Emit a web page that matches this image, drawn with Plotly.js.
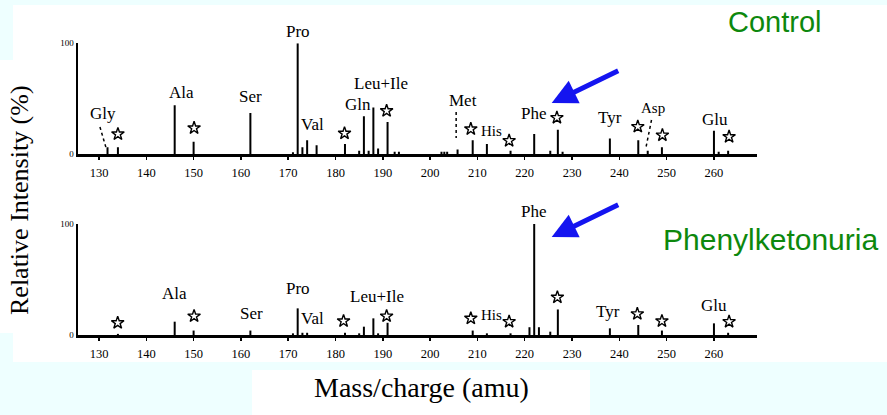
<!DOCTYPE html>
<html>
<head>
<meta charset="utf-8">
<script src="https://cdn.plot.ly/plotly-3.0.1.min.js"></script>
<style>html,body{margin:0;padding:0;background:#EEFFFF;}#chart{width:887px;height:415px;}</style>
</head>
<body>
<div id="chart"></div>
<script>
// ---- data ----
const controlMass = [131.8, 134, 146, 150, 162, 171, 172, 173, 174, 176, 182, 185, 186, 187, 188, 189, 191, 192.5, 193.4, 202.4, 203, 203.6, 205.8, 209, 212, 217, 222, 225.4, 227, 228, 238, 244, 246, 249, 260, 261, 263];
const controlInt  = [6, 6, 44, 11, 37, 1.5, 100, 6, 12.5, 8, 9, 3, 34, 3, 42, 5, 29, 2, 2, 2, 2, 2, 4, 12.5, 9, 3, 18, 3, 22, 2, 14, 12.5, 3, 6, 21, 2, 3];

const pkuMass = [134, 146, 150, 162, 171, 172, 173, 174, 182, 185, 186, 188, 189, 191, 209, 212, 217, 221, 222, 223, 225.4, 227, 238, 244, 249, 260, 263];
const pkuInt  = [1, 12, 4, 4, 1.5, 24, 2, 2, 2, 1.5, 7.5, 15, 1.5, 11, 4, 1.5, 1.5, 7, 100, 7, 3, 23, 6, 9, 4, 10.5, 2];

const xTicks = [130, 140, 150, 160, 170, 180, 190, 200, 210, 220, 230, 240, 250, 260];

// peak labels: [text, mass, intensity-position]
const controlLabels = [
  ['Gly', 130.85, 37], ['Ala', 147.5, 56], ['Ser', 162.1, 51.5],
  ['Val', 175.2, 27], ['Gln', 184.8, 45], ['Leu+Ile', 189.6, 64], ['Met', 207.0, 48],
  ['His', 212.9, 21], ['Phe', 222, 37], ['Tyr', 238.0, 33.4], ['Asp', 247.2, 42], ['Glu', 260.2, 31.3]
];
const controlTopLabel = ['Pro', 172.1];
const controlStarMass = [134.0, 150.1, 181.9, 190.8, 208.6, 216.7, 226.8, 243.9, 249.1, 263.2];
const controlStarPos  = [18, 23.5, 18.7, 39, 22.6, 12, 32.8, 24.7, 17, 15.6];

const pkuLabels = [
  ['Ala', 145.9, 37.5], ['Ser', 162.3, 19.5], ['Pro', 172, 42],
  ['Val', 175.2, 15], ['Leu+Ile', 188.7, 35], ['His', 212.9, 18], ['Tyr', 237.7, 21], ['Glu', 260.1, 27]
];
const pkuTopLabel = ['Phe', 222];
const pkuStarMass = [133.95, 150.1, 181.7, 190.8, 208.6, 216.7, 226.9, 243.8, 249.0, 263.2];
const pkuStarPos  = [11, 17, 12.6, 17, 15, 12, 34, 19, 12.6, 12];

// ---- build stick spectra ----
function sticks(mass, inten) {
  const x = [], y = [];
  mass.forEach((m, i) => { x.push(m, m, null); y.push(0, inten[i], null); });
  return {x, y};
}
const s1 = sticks(controlMass, controlInt);
const s2 = sticks(pkuMass, pkuInt);

const starMarker = {symbol: 'star-open', size: 9.5, color: '#000', line: {color: '#000', width: 1.4}};
const traces = [
  {x: s1.x, y: s1.y, xaxis: 'x', yaxis: 'y', mode: 'lines', line: {color: '#000', width: 2}, hoverinfo: 'skip', showlegend: false},
  {x: s2.x, y: s2.y, xaxis: 'x2', yaxis: 'y2', mode: 'lines', line: {color: '#000', width: 2}, hoverinfo: 'skip', showlegend: false},
  {x: controlStarMass, y: controlStarPos, xaxis: 'x', yaxis: 'y', mode: 'markers', marker: starMarker, cliponaxis: false, hoverinfo: 'skip', showlegend: false},
  {x: pkuStarMass, y: pkuStarPos, xaxis: 'x2', yaxis: 'y2', mode: 'markers', marker: starMarker, cliponaxis: false, hoverinfo: 'skip', showlegend: false}
];

const W = 887, H = 415;
const px = v => v / W, py = v => 1 - v / H;
const serif = 'Liberation Serif, Times New Roman, serif';

const xr = [125.56, 269.1];
function xAxis(anchor) {
  return {
    domain: [px(78), px(757)], range: xr, anchor: anchor,
    showline: true, linecolor: '#000', linewidth: 2.5,
    ticks: 'outside', ticklen: 3, tickwidth: 1.5, tickcolor: '#000',
    tickvals: xTicks, tickfont: {family: serif, size: 12.5, color: '#000'},
    ticklabelstandoff: 2,
    showgrid: false, zeroline: false, fixedrange: true
  };
}
function yAxis(anchor, top, bottom) {
  return {
    domain: [py(bottom), py(top)], range: [0, 100], anchor: anchor,
    showline: true, linecolor: '#000', linewidth: 2.5,
    ticks: '', tickvals: [0, 100], ticktext: ['0', '100'],
    tickfont: {family: serif, size: 9, color: '#000'},
    showgrid: false, zeroline: false, fixedrange: true
  };
}

const annotations = [];
function addLabels(list, xref, yref) {
  list.forEach(l => annotations.push({
    text: l[0], x: l[1], y: l[2], xref: xref, yref: yref, showarrow: false,
    xanchor: 'center', yanchor: 'middle',
    font: {family: serif, size: (l[0] === 'His' || l[0] === 'Asp') ? 15 : 17, color: '#000'}
  }));
}
addLabels(controlLabels, 'x', 'y');
addLabels(pkuLabels, 'x2', 'y2');
annotations.push({text: controlTopLabel[0], x: controlTopLabel[1], y: 100, xref: 'x', yref: 'y', showarrow: false,
  xanchor: 'center', yanchor: 'bottom', yshift: 0, font: {family: serif, size: 17, color: '#000'}});
annotations.push({text: pkuTopLabel[0], x: pkuTopLabel[1], y: 100, xref: 'x2', yref: 'y2', showarrow: false,
  xanchor: 'center', yanchor: 'bottom', yshift: 1, font: {family: serif, size: 17, color: '#000'}});

// panel names
annotations.push({text: 'Control', xref: 'paper', yref: 'paper', x: px(775), y: py(22), showarrow: false,
  xanchor: 'center', yanchor: 'middle',
  font: {family: 'Liberation Sans, Arial, sans-serif', size: 29, color: '#0d880d'}});
annotations.push({text: 'Phenylketonuria', xref: 'paper', yref: 'paper', x: px(770), y: py(239), showarrow: false,
  xanchor: 'center', yanchor: 'middle',
  font: {family: 'Liberation Sans, Arial, sans-serif', size: 30, color: '#0d880d'}});

// blue arrows
[[551.7, 103], [551.7, 237]].forEach(p => annotations.push({
  text: '', xref: 'paper', yref: 'paper', x: px(p[0]), y: py(p[1]),
  ax: 68, ay: -33, showarrow: true, arrowhead: 2, arrowsize: 1, arrowwidth: 5,
  arrowcolor: '#1414f0', standoff: 0
}));

// axis titles
annotations.push({text: 'Mass/charge (amu)', xref: 'paper', yref: 'paper', x: px(421), y: py(387), showarrow: false,
  xanchor: 'center', yanchor: 'middle', font: {family: serif, size: 28, color: '#000'}});
annotations.push({text: 'Relative Intensity (%)', xref: 'paper', yref: 'paper', x: px(19), y: py(200), showarrow: false,
  xanchor: 'center', yanchor: 'middle', textangle: -90, font: {family: serif, size: 26, color: '#000'}});

const shapes = [
  // white scanned figure area
  {type: 'rect', xref: 'paper', yref: 'paper', x0: px(13), x1: 1, y0: py(362), y1: py(5), fillcolor: '#fff', line: {width: 0}, layer: 'below'},
  {type: 'rect', xref: 'paper', yref: 'paper', x0: 0, x1: px(14), y0: py(333), y1: py(60), fillcolor: '#fff', line: {width: 0}, layer: 'below'},
  {type: 'rect', xref: 'paper', yref: 'paper', x0: px(252), x1: px(590), y0: 0, y1: py(370), fillcolor: '#fff', line: {width: 0}, layer: 'below'},
  // dotted leader lines (control panel)
  {type: 'line', xref: 'x', yref: 'y', x0: 130.2, y0: 24.4, x1: 131.5, y1: 5.4, line: {color: '#000', width: 1.5, dash: 'dot'}},
  {type: 'line', xref: 'x', yref: 'y', x0: 205.5, y0: 38, x1: 205.5, y1: 14.5, line: {color: '#000', width: 1.5, dash: 'dot'}},
  {type: 'line', xref: 'x', yref: 'y', x0: 246.8, y0: 30.7, x1: 245.6, y1: 5.4, line: {color: '#000', width: 1.5, dash: 'dot'}}
];

const layout = {
  width: W, height: H,
  margin: {l: 0, r: 0, t: 0, b: 0},
  paper_bgcolor: '#EEFFFF', plot_bgcolor: 'rgba(0,0,0,0)',
  showlegend: false,
  xaxis: xAxis('y'), yaxis: yAxis('x', 43.3, 154),
  xaxis2: xAxis('y2'), yaxis2: yAxis('x2', 224, 335),
  annotations: annotations, shapes: shapes
};

Plotly.newPlot('chart', traces, layout, {staticPlot: true, displayModeBar: false});
</script>
</body>
</html>
